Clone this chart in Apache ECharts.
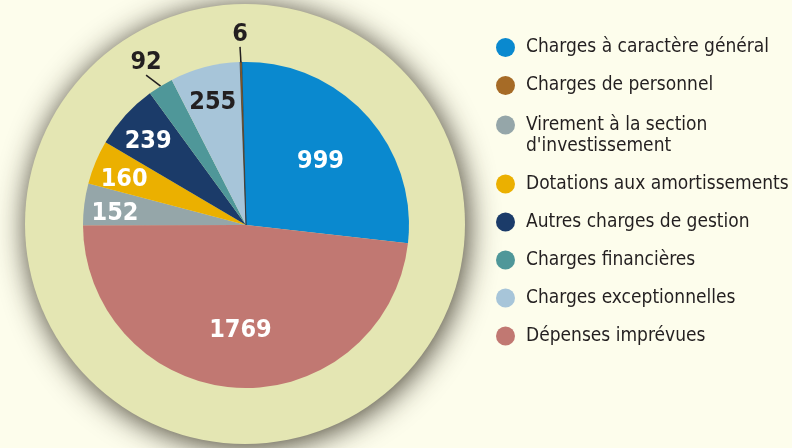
<!DOCTYPE html>
<html lang="fr">
<head>
<meta charset="UTF-8">
<script src="https://cdn.jsdelivr.net/npm/echarts@6/dist/echarts.min.js"></script>
<style>
    html, body { margin: 0; padding: 0; background: #fdfdec; }
    #main { width: 792px; height: 448px; }
</style>
</head>
<body>
<div id="main"></div>
<script>
// légende (ordre affiché à droite)
var legendNames = [
    'Charges à caractère général',
    'Charges de personnel',
    "Virement à la section\nd'investissement",
    'Dotations aux amortissements',
    'Autres charges de gestion',
    'Charges financières',
    'Charges exceptionnelles',
    'Dépenses imprévues'
];
// secteurs, dans le sens horaire depuis midi
var sliceNames = [
    'Charges à caractère général',
    'Dépenses imprévues',
    "Virement à la section\nd'investissement",
    'Dotations aux amortissements',
    'Autres charges de gestion',
    'Charges financières',
    'Charges exceptionnelles',
    'Charges de personnel'
];
var sliceValues = [999, 1769, 152, 160, 239, 92, 255, 6];

var colorOf = {
    'Charges à caractère général': '#0a89cf',
    'Charges de personnel': '#a66b26',
    "Virement à la section\nd'investissement": '#95a6a9',
    'Dotations aux amortissements': '#ebb000',
    'Autres charges de gestion': '#1b3b69',
    'Charges financières': '#4f9799',
    'Charges exceptionnelles': '#a7c5d9',
    'Dépenses imprévues': '#c17872'
};

var CX = 246, CY = 225, R = 163, START = 91.5;
var INK = '#231f20';

var total = sliceValues.reduce(function (a, b) { return a + b; }, 0);
var acc = 0;
var midAngles = sliceValues.map(function (v) {
    var m = (acc + v / 2) / total * 360 - (START - 90);
    acc += v;
    return m * Math.PI / 180;
});
function share(i) { return sliceValues[i] / total; }
function isOutside(i) { return share(i) < 0.03; }
function labelRatio(i) {
    if (isOutside(i)) return 1.17;
    if (share(i) > 0.2) return 0.62;
    return 0.81;
}

var pieData = sliceNames.map(function (name, i) {
    var outside = isOutside(i);
    var item = {
        name: name,
        value: sliceValues[i],
        itemStyle: { color: colorOf[name] },
        label: {
            position: outside ? 'outside' : 'inside',
            color: (outside || name === 'Charges exceptionnelles') ? INK : '#fff',
            padding: outside ? 7 : 0
        },
        labelLine: { show: outside }
    };
    if (name === 'Charges de personnel') {
        item.itemStyle.borderColor = INK;
        item.itemStyle.borderWidth = 0.6;
    }
    return item;
});

var legendBase = {
    orient: 'vertical',
    left: 496,
    padding: 0,
    icon: 'circle',
    itemWidth: 19,
    itemHeight: 19,
    itemGap: 17,
    itemStyle: { borderWidth: 0 },
    selectedMode: false,
    // une ligne vide devant les libellés sur deux lignes : la pastille reste sur la première
    formatter: function (name) {
        return name.indexOf('\n') >= 0 ? '\n' + name : name;
    },
    textStyle: {
        fontFamily: 'DejaVu Sans Condensed',
        fontSize: 19,
        color: INK,
        lineHeight: 21,
        padding: [0, 0, 0, 6]
    }
};

var myChart = echarts.init(document.getElementById('main'));
var option = {
    backgroundColor: '#fdfdec',
    animation: false,
    graphic: [{
        type: 'circle',
        shape: { cx: CX - 1, cy: CY - 1, r: 220 },
        style: {
            fill: '#e4e6b3',
            shadowBlur: 30,
            shadowOffsetX: 2,
            shadowOffsetY: 3,
            shadowColor: 'rgba(30,25,10,0.85)'
        },
        z: -1,
        silent: true
    }],
    legend: [
        Object.assign({}, legendBase, { top: 37, data: legendNames.slice(0, 2) }),
        Object.assign({}, legendBase, { top: 93.5, data: legendNames.slice(2) })
    ],
    series: [{
        type: 'pie',
        center: [CX, CY],
        radius: R,
        startAngle: START,
        clockwise: true,
        avoidLabelOverlap: false,
        silent: true,
        itemStyle: { borderWidth: 0 },
        label: {
            show: true,
            formatter: '{c}',
            fontFamily: 'DejaVu Sans Condensed',
            fontWeight: 'bold',
            fontSize: 25
        },
        labelLine: {
            length: 8,
            length2: 0,
            lineStyle: { color: INK, width: 1.5 }
        },
        labelLayout: function (params) {
            var i = params.dataIndex;
            var a = midAngles[i];
            var r = labelRatio(i) * R;
            return {
                x: CX + r * Math.sin(a),
                y: CY - r * Math.cos(a) + (isOutside(i) ? 0 : 5),
                align: 'center',
                verticalAlign: 'middle'
            };
        },
        data: pieData
    }]
};
myChart.setOption(option);
</script>
</body>
</html>
